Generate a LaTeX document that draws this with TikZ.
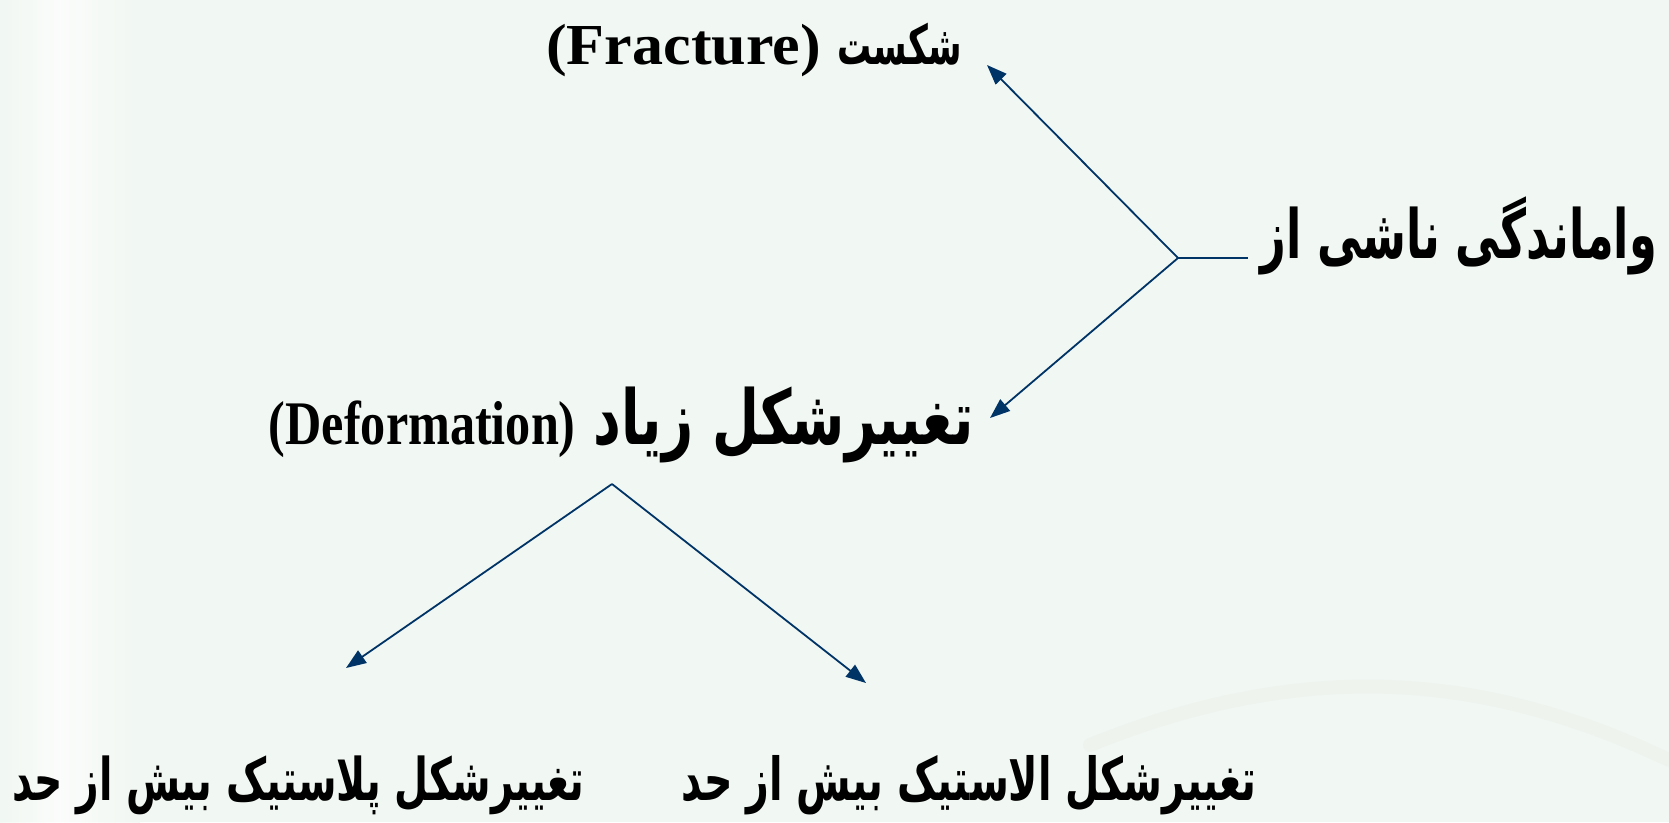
\documentclass[tikz,border=0pt]{standalone}
\usepackage{fontspec}
\setmainfont{Liberation Serif}
\newfontfamily\arabicfont[Script=Arabic]{DejaVu Sans}
\usetikzlibrary{arrows.meta}
\TeXXeTstate=1
\definecolor{bgmint}{RGB}{241,247,242}
\definecolor{navyline}{RGB}{0,51,102}
\newcommand{\fa}{\arabicfont\bfseries}
\tikzset{
  lbl/.style={inner sep=0pt, text=black, font=\bfseries},
  conn/.style={draw=navyline, line width=1.8pt},
  arr/.style={conn, -{Triangle[length=20pt,width=15pt]}}
}
\begin{document}
\begin{tikzpicture}[x=1pt,y=-1pt]
\useasboundingbox (0,0) rectangle (1669,822);
% background
\fill[bgmint] (0,0) rectangle (1669,822);
\shade[left color=bgmint, right color=white, opacity=0.7] (0,0) rectangle (60,822);
\shade[left color=white, right color=bgmint, opacity=0.7] (60,0) rectangle (140,822);
\draw[gray!30, line width=14pt, opacity=0.12, line cap=round] (1090,745) .. controls (1300,660) and (1480,670) .. (1669,760);

% text nodes
\node[lbl, anchor=base east] (frac) at (962,64)
  {\scalebox{1.07}[1]{\fontsize{58}{62}\selectfont (Fracture)}\hspace{17pt}\scalebox{1}[1.6]{\resizebox{124pt}{!}{\fa\beginR شکست\endR}}};
\node[lbl, anchor=base east] (main) at (1657,258)
  {\scalebox{1}[1.52]{\resizebox{396pt}{!}{\fa\beginR واماندگی ناشی از\endR}}};
\node[lbl, anchor=base east] (def) at (974,444)
  {\scalebox{0.81}[1]{\fontsize{62}{66}\selectfont (Deformation)}\hspace{18pt}\scalebox{1}[1.4]{\resizebox{380pt}{!}{\fa\beginR تغییرشکل زیاد\endR}}};
\node[lbl, anchor=base west] (plast) at (12,800)
  {\scalebox{1}[1.5]{\resizebox{572pt}{!}{\fa\beginR تغییرشکل پلاستیک بیش از حد\endR}}};
\node[lbl, anchor=base east] (elast) at (1257,800)
  {\scalebox{1}[1.5]{\resizebox{575pt}{!}{\fa\beginR تغییرشکل الاستیک بیش از حد\endR}}};

% connector points
\coordinate (hl) at (1248,258);
\coordinate (j) at (1178,258);
\coordinate (tipF) at (987,65);
\coordinate (tipD) at (990,418);
\coordinate (apex) at (612,484);
\coordinate (tipP) at (346,668);
\coordinate (tipE) at (866,683);

\draw[conn, line width=2.6pt] (hl) -- (j);
\draw[arr] (j) -- (tipF);
\draw[arr] (j) -- (tipD);
\draw[arr] (apex) -- (tipP);
\draw[arr] (apex) -- (tipE);
\end{tikzpicture}
\end{document}
